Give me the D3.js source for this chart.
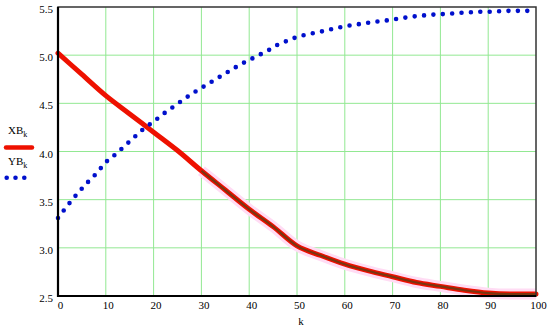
<!DOCTYPE html>
<html>
<head>
<meta charset="utf-8">
<script src="https://cdn.jsdelivr.net/npm/d3@7/dist/d3.min.js"></script>
<style>
    body { margin: 0; background: #fff; }
    text { font-family: "Liberation Serif", "Times New Roman", serif; fill: #000; }
</style>
</head>
<body>
<svg id="chart" width="550" height="330"></svg>
<script>
// k positions and values
const kXB = [0, 5, 10, 15, 20, 25, 30, 35, 40, 45, 50, 55, 60, 65, 70, 75, 80, 85, 90, 95, 100];
const XB = [5.02, 4.80, 4.58, 4.39, 4.20, 4.01, 3.80, 3.60, 3.40, 3.22, 3.02,
    2.92, 2.83, 2.76, 2.70, 2.64, 2.60, 2.56, 2.53, 2.52, 2.52];

const kYB = [0, 2, 4, 6, 8, 10, 12, 14, 16, 18, 20, 22, 24, 26, 28, 30, 32, 34, 36, 38, 40,
    42, 44, 46, 48, 50, 52, 54, 56, 58, 60, 62, 64, 66, 68, 70, 72, 74, 76, 78, 80,
    82, 84, 86, 88, 90, 92, 94, 96, 98, 100];
const YB = [3.31, 3.44, 3.56, 3.67, 3.77, 3.89, 3.97, 4.06, 4.15, 4.24, 4.31,
    4.39, 4.46, 4.53, 4.60, 4.66, 4.72, 4.78, 4.84, 4.90, 4.95,
    5.00, 5.05, 5.11, 5.15, 5.19, 5.215, 5.235, 5.255, 5.28, 5.30,
    5.315, 5.33, 5.345, 5.355, 5.37, 5.385, 5.40, 5.41, 5.42, 5.425,
    5.43, 5.44, 5.445, 5.45, 5.45, 5.455, 5.46, 5.46, 5.46, 5.46];

const xTicks = [0, 10, 20, 30, 40, 50, 60, 70, 80, 90, 100];
const yTicks = [2.5, 3, 3.5, 4, 4.5, 5, 5.5];
const xLabel = 'k';

const FONT = '"Liberation Serif", "Times New Roman", serif';

const svg = d3.select('#chart');
const plot = { left: 58, right: 536, top: 7, bottom: 296 };

const x = d3.scaleLinear().domain([0, 100]).range([plot.left, plot.right]);
const y = d3.scaleLinear().domain([2.5, 5.5]).range([plot.bottom, plot.top]);

// grid
const grid = svg.append('g').attr('class', 'grid')
    .attr('stroke', '#92e892').attr('stroke-width', 1);
grid.selectAll('line.v').data(xTicks.slice(1, -1)).enter().append('line')
    .attr('class', 'v')
    .attr('x1', d => x(d)).attr('x2', d => x(d))
    .attr('y1', plot.top).attr('y2', plot.bottom);
grid.selectAll('line.h').data(yTicks.slice(1, -1)).enter().append('line')
    .attr('class', 'h')
    .attr('x1', plot.left).attr('x2', plot.right)
    .attr('y1', d => y(d)).attr('y2', d => y(d));

// tick labels
const xAxis = svg.append('g')
    .attr('transform', `translate(0,${plot.bottom})`)
    .call(d3.axisBottom(x).tickValues(xTicks).tickSize(0).tickPadding(5))
    .attr('font-family', FONT).attr('font-size', 11);
xAxis.select('.domain').remove();
xAxis.selectAll('text').attr('dx', 2);

const yAxis = svg.append('g')
    .attr('transform', `translate(${plot.left},0)`)
    .call(d3.axisLeft(y).tickValues(yTicks).tickSize(0).tickPadding(5))
    .attr('font-family', FONT).attr('font-size', 11);
yAxis.select('.domain').remove();
yAxis.selectAll('text').attr('dy', '0.5em');

svg.append('text')
    .attr('x', x(50) + 4).attr('y', 325)
    .attr('text-anchor', 'middle')
    .style('font-size', '11px')
    .text(xLabel);

// XB line
const xbData = kXB.map((k, i) => ({ k, v: XB[i] }));
const xbLine = d3.line().curve(d3.curveMonotoneX).x(d => x(d.k)).y(d => y(d.v));
const xbLate = xbData.filter(d => d.k >= 30);

svg.append('path')
    .attr('d', xbLine(xbLate))
    .attr('fill', 'none').attr('stroke', '#ffdcf4')
    .attr('stroke-width', 11).attr('stroke-linejoin', 'round');
svg.append('path')
    .attr('d', xbLine(xbData))
    .attr('fill', 'none').attr('stroke', '#ee1100')
    .attr('stroke-width', 5).attr('stroke-linejoin', 'round').attr('stroke-linecap', 'round');
svg.append('path')
    .attr('d', xbLine(xbLate))
    .attr('fill', 'none').attr('stroke', '#7a3510')
    .attr('stroke-width', 2.2).attr('stroke-linejoin', 'round');

// YB dotted line
const ybData = kYB.map((k, i) => ({ k, v: YB[i] }));
svg.append('path')
    .attr('d', d3.line().x(d => x(d.k)).y(d => y(d.v))(ybData))
    .attr('fill', 'none').attr('stroke', '#0010cc')
    .attr('stroke-width', 4.6).attr('stroke-linecap', 'round')
    .attr('stroke-dasharray', '0 9.4');

// frame
svg.append('rect')
    .attr('x', plot.left).attr('y', plot.top)
    .attr('width', plot.right - plot.left).attr('height', plot.bottom - plot.top)
    .attr('fill', 'none').attr('stroke', '#333').attr('stroke-width', 1.5);
svg.append('path')
    .attr('d', `M${plot.left},${plot.top}V${plot.bottom}H${plot.right}`)
    .attr('fill', 'none').attr('stroke', '#000').attr('stroke-width', 2.2);

// legend
const legend = svg.append('g').attr('class', 'legend');
const addLabel = (name, ty) => {
    const t = legend.append('text').attr('x', 8).attr('y', ty).style('font-size', '11px');
    t.append('tspan').text(name);
    t.append('tspan').attr('dy', 3).style('font-size', '8px').text('k');
};
addLabel('XB', 134);
legend.append('line')
    .attr('x1', 6).attr('x2', 32).attr('y1', 147.5).attr('y2', 147.5)
    .attr('stroke', '#ee1100').attr('stroke-width', 4.5).attr('stroke-linecap', 'round');
addLabel('YB', 165);
legend.append('line')
    .attr('x1', 6.7).attr('x2', 26).attr('y1', 177.7).attr('y2', 177.7)
    .attr('stroke', '#0010cc').attr('stroke-width', 4.6).attr('stroke-linecap', 'round')
    .attr('stroke-dasharray', '0 8.8');
</script>
</body>
</html>
